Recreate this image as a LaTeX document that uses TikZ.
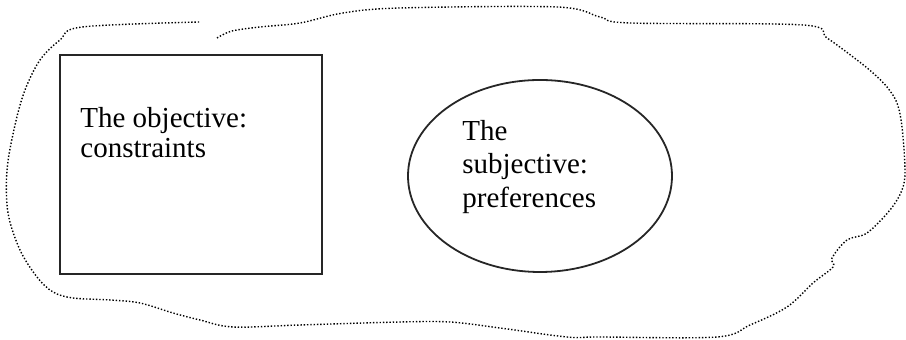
\documentclass[tikz,border=0pt]{standalone}
\usepackage{fontspec}
\setmainfont{Liberation Serif}
\usetikzlibrary{shapes.geometric}
\begin{document}
\begin{tikzpicture}[x=0.5pt,y=-0.5pt]
        \tikzstyle{region}=[draw=black!85,line width=0.9pt,inner sep=0pt]
        \tikzstyle{note}=[align=left,anchor=north west,inner sep=0pt]
        \tikzstyle{cloud}=[draw=black,line width=0.7pt,dash pattern=on 0.7pt off 0.95pt]
       \useasboundingbox (0,0) rectangle (906,340);
       \begin{scope}
         \node [region,rectangle,minimum width=131pt,minimum height=109.5pt] (obj) at (191,164.5) {};
         \node [region,ellipse,minimum width=132pt,minimum height=96pt] (subj) at (540,176) {};

         \node [note,font=\fontsize{14.5}{15}\selectfont] (objtext) at (80,107) {The objective:\\constraints};
         \node [note,font=\fontsize{14.5}{16.7}\selectfont] (subjtext) at (462,120) {The\\subjective:\\preferences};

         \path[cloud] plot[smooth,tension=0.55] coordinates {(217,38) (232,31) (260,27) (300,23) (343,13) (400,8) (557,7) (600,17) (630,23) (803,25) (827,38) (857,60) (873,73) (887,87) (897,103) (902,127) (905,170) (902,190) (890,210) (867,233) (847,240) (832,258) (833,267) (813,283) (787,307) (750,325) (717,337) (600,337) (567,337) (500,328) (450,322) (400,322) (300,325) (233,327) (200,320) (173,313) (140,303) (110,300) (73,298) (53,292) (37,277) (20,250) (8,213) (7,170) (15,125) (25,90) (40,60) (60,40) (82,27) (200,22)};
        \end{scope}
      \end{tikzpicture}
\end{document}
